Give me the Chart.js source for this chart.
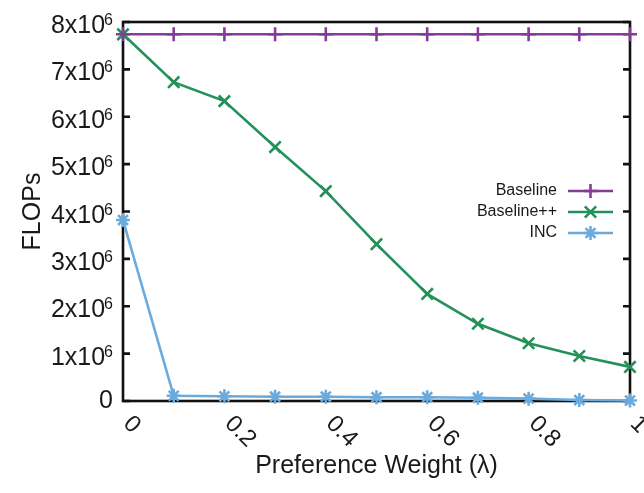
<!DOCTYPE html>
<html><head><meta charset="utf-8">
<script src="https://cdn.jsdelivr.net/npm/chart.js@4/dist/chart.umd.min.js"></script>
<style>html,body{margin:0;padding:0;background:#fff}</style>
</head><body>
<canvas id="c" width="644" height="493"></canvas>
<script>
const lambdas = [0, 0.1, 0.2, 0.3, 0.4, 0.5, 0.6, 0.7, 0.8, 0.9, 1];
const baseline = [7.74e6, 7.74e6, 7.74e6, 7.74e6, 7.74e6, 7.74e6, 7.74e6, 7.74e6, 7.74e6, 7.74e6, 7.74e6];
const baselinePP = [7.74e6, 6.73e6, 6.33e6, 5.36e6, 4.43e6, 3.31e6, 2.26e6, 1.63e6, 1.22e6, 0.95e6, 0.72e6];
const inc = [3.82e6, 0.11e6, 0.10e6, 0.09e6, 0.09e6, 0.08e6, 0.08e6, 0.07e6, 0.05e6, 0.02e6, 0.01e6];
const seriesNames = ['Baseline', 'Baseline++', 'INC'];
const xTickValues = [0, 0.2, 0.4, 0.6, 0.8, 1];
const xTickLabels = ['0', '0.2', '0.4', '0.6', '0.8', '1'];
const yTickValues = [0, 1e6, 2e6, 3e6, 4e6, 5e6, 6e6, 7e6, 8e6];
const yTickMantissas = ['0', '1', '2', '3', '4', '5', '6', '7', '8'];
const yTickExponent = '6';

const FONT = "'Liberation Sans', Arial, Helvetica, sans-serif";
const colors = ['#863c97', '#239159', '#6aaadd'];
const styles = ['cross', 'crossRot', 'star'];
const radii = [7, 8, 7];

function pts(ys) { return lambdas.map((x, i) => ({x: x, y: ys[i]})); }
const allSeries = [baseline, baselinePP, inc];

const datasets = allSeries.map((s, i) => ({
  label: seriesNames[i],
  data: pts(s),
  borderColor: colors[i],
  backgroundColor: colors[i],
  borderWidth: 2.6,
  pointStyle: styles[i],
  pointRadius: radii[i],
  pointBorderWidth: 2.6,
  pointBorderColor: colors[i],
  clip: false,
  tension: 0
}));

const decor = {
  id: 'decor',
  beforeDatasetsDraw(chart) {
    const {ctx, chartArea: a} = chart;
    const ys = chart.scales.y;
    ctx.save();
    ctx.strokeStyle = '#111';
    ctx.lineWidth = 2.6;
    ctx.strokeRect(a.left, a.top, a.right - a.left, a.bottom - a.top);
    yTickValues.forEach(v => {
      const y = ys.getPixelForValue(v);
      ctx.beginPath();
      ctx.moveTo(a.left, y); ctx.lineTo(a.left + 7, y);
      ctx.moveTo(a.right, y); ctx.lineTo(a.right - 7, y);
      ctx.stroke();
    });
    ctx.restore();
  },
  afterDraw(chart) {
    const {ctx, chartArea: a} = chart;
    const xs = chart.scales.x, ys = chart.scales.y;
    ctx.save();
    ctx.fillStyle = '#1a1a1a';
    // y tick labels
    const rightEdge = 113;
    yTickValues.forEach((v, i) => {
      const y = ys.getPixelForValue(v);
      if (yTickMantissas[i] === '0') {
        ctx.font = '25px ' + FONT;
        ctx.textAlign = 'right';
        ctx.textBaseline = 'middle';
        ctx.fillText('0', rightEdge, y);
        return;
      }
      ctx.font = '16px ' + FONT;
      ctx.textAlign = 'right';
      ctx.textBaseline = 'alphabetic';
      const sw = ctx.measureText(yTickExponent).width;
      ctx.fillText(yTickExponent, rightEdge, y + 3);
      ctx.font = '25px ' + FONT;
      ctx.fillText(yTickMantissas[i] + 'x10', rightEdge - sw + 1, y + 11);
    });
    // x tick labels (rotated clockwise)
    ctx.font = '24px ' + FONT;
    ctx.textAlign = 'left';
    ctx.textBaseline = 'middle';
    xTickValues.forEach((v, i) => {
      const x = xs.getPixelForValue(v);
      ctx.save();
      ctx.translate(x + 4, a.bottom + 19);
      ctx.rotate(Math.PI / 4);
      ctx.fillText(xTickLabels[i], 0, 0);
      ctx.restore();
    });
    // legend
    ctx.font = '16px ' + FONT;
    ctx.textAlign = 'right';
    ctx.textBaseline = 'middle';
    const ly = [191, 212, 233];
    datasets.forEach((d, i) => {
      ctx.fillStyle = '#1a1a1a';
      ctx.fillText(d.label, 557, ly[i]);
      ctx.strokeStyle = colors[i];
      ctx.lineWidth = 2.6;
      ctx.beginPath();
      ctx.moveTo(568, ly[i]); ctx.lineTo(613, ly[i]);
      ctx.stroke();
      Chart.helpers.drawPoint(ctx, {pointStyle: styles[i], radius: radii[i], borderWidth: 2.6}, 590.5, ly[i]);
    });
    ctx.restore();
  }
};

new Chart(document.getElementById('c'), {
  type: 'line',
  data: {datasets: datasets},
  options: {
    responsive: false,
    animation: false,
    layout: {padding: {top: 22, right: 14, left: 0, bottom: 0}},
    plugins: {legend: {display: false}, tooltip: {enabled: false}},
    scales: {
      x: {
        type: 'linear', min: 0, max: 1,
        ticks: {display: false},
        grid: {display: false},
        border: {display: false},
        title: {display: true, text: 'Preference Weight (λ)', color: '#1a1a1a',
                font: {family: FONT, size: 25}, padding: {top: 0, bottom: 12}},
        afterFit(s) { s.height = 92; }
      },
      y: {
        min: 0, max: 8e6,
        ticks: {display: false},
        grid: {display: false},
        border: {display: false},
        title: {display: true, text: 'FLOPs', color: '#1a1a1a',
                font: {family: FONT, size: 25}, padding: {top: 18, bottom: 0}},
        afterFit(s) { s.width = 123; }
      }
    }
  },
  plugins: [decor]
});
</script>
</body></html>
